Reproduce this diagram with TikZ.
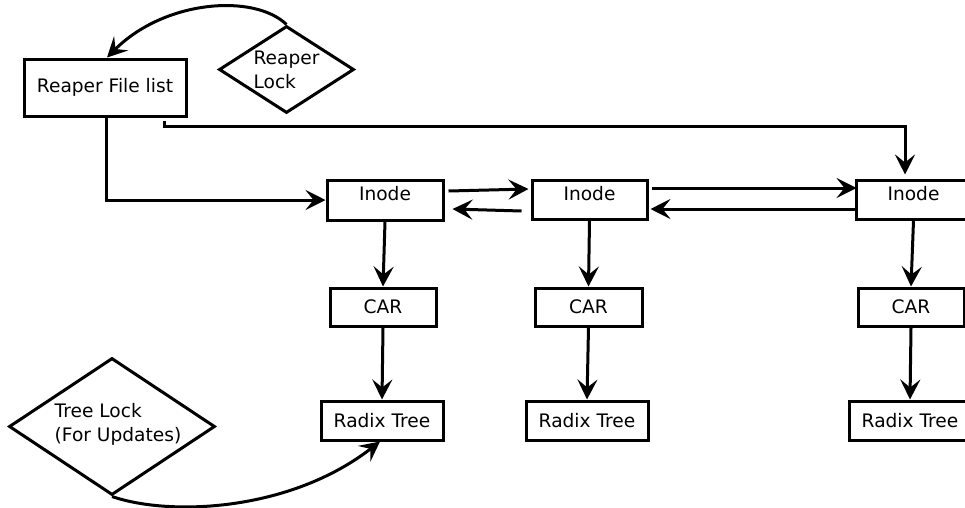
\documentclass[tikz,border=0pt]{standalone}
\usepackage{fontspec}
\setmainfont{DejaVu Sans}
\usetikzlibrary{arrows.meta,shapes.geometric}

\tikzset{
  box/.style={draw, line width=3pt, rectangle, inner sep=0pt, fill=white,
              font=\fontsize{18.6}{24}\selectfont},
  lockdia/.style={draw, line width=3pt, diamond, inner sep=0pt, fill=white},
  locktext/.style={align=left, font=\fontsize{18.6}{24}\selectfont},
  arr/.style={line width=3pt, -{Stealth[length=20pt,width=20pt,inset=8pt]}},
}

\begin{document}
\begin{tikzpicture}[x=1pt,y=-1pt]
\useasboundingbox (0,0) rectangle (965,507);
\clip (0,0) rectangle (965,507);

% file list and its lock
\node[box, minimum width=162pt, minimum height=57pt] (rfl) at (105,87.5) {Reaper File list};
\node[lockdia, minimum width=135pt, minimum height=87pt,
      label={[locktext, name=rlocktxt]center:Reaper\\Lock}] (rlock) at (286.5,69.5) {};

% inodes
\node[box, minimum width=116pt, minimum height=40pt,
      label={[box, draw=none, fill=none, yshift=6pt, name=i1txt]center:Inode}] (inode1) at (385,200) {};
\node[box, minimum width=115pt, minimum height=39pt,
      label={[box, draw=none, fill=none, yshift=6pt, name=i2txt]center:Inode}] (inode2) at (589.5,199.5) {};
\node[box, minimum width=115pt, minimum height=39pt,
      label={[box, draw=none, fill=none, yshift=6pt, name=i3txt]center:Inode}] (inode3) at (913.5,199.5) {};

% CAR boxes
\node[box, minimum width=106pt, minimum height=38pt] (car1) at (383,307) {CAR};
\node[box, minimum width=107pt, minimum height=38pt] (car2) at (588.5,307) {CAR};
\node[box, minimum width=106pt, minimum height=38pt] (car3) at (911,307) {CAR};

% radix trees
\node[box, minimum width=122pt, minimum height=39pt] (radix1) at (382,420.5) {Radix Tree};
\node[box, minimum width=122pt, minimum height=39pt] (radix2) at (587,420.5) {Radix Tree};
\node[box, minimum width=122pt, minimum height=39pt] (radix3) at (910,420.5) {Radix Tree};

% tree lock
\node[lockdia, minimum width=206pt, minimum height=137pt,
      label={[locktext, xshift=6pt, yshift=2pt, name=tlocktxt]center:Tree Lock\\(For Updates)}] (tlock) at (112,426.5) {};

% lock on the file list
\draw[arr] (rlock.north) .. controls +(-32,-31) and +(58,-58) .. ([xshift=2pt]rfl.north);

% file list to the inodes
\draw[arr] ([xshift=1pt]rfl.south) |- (inode1.west);
\coordinate (turn) at ([xshift=-8.5pt,yshift=52.5pt]inode3.north);
\draw[arr] ([xshift=59pt,yshift=-3pt]rfl.south) |- (turn) -- ([xshift=-8.5pt,yshift=4pt]inode3.north);

% links between inodes
\draw[arr] ([xshift=4pt,yshift=9pt]inode1.east) -- ([xshift=-2pt,yshift=10.5pt]inode2.west);
\draw[arr] ([xshift=-9pt,yshift=-11.5pt]inode2.west) -- ([xshift=8pt,yshift=-9pt]inode1.east);
\draw[arr] ([xshift=3pt,yshift=11.5pt]inode2.east) -- ([xshift=2pt,yshift=11.5pt]inode3.west);
\draw[arr] ([yshift=-9.5pt]inode3.west) -- ([xshift=2pt,yshift=-9.5pt]inode2.east);

% inode -> CAR -> radix tree
\draw[arr] (inode1.south) -- (car1.north);
\draw[arr] (car1.south) -- (radix1.north);
\draw[arr] (inode2.south) -- (car2.north);
\draw[arr] (car2.south) -- (radix2.north);
\draw[arr] (inode3.south) -- (car3.north);
\draw[arr] (car3.south) -- (radix3.north);

% tree lock on the first radix tree
\draw[arr] (tlock.south) .. controls +(58,20) and +(-90,70) .. ([xshift=-2pt]radix1.south);
\end{tikzpicture}
\end{document}
